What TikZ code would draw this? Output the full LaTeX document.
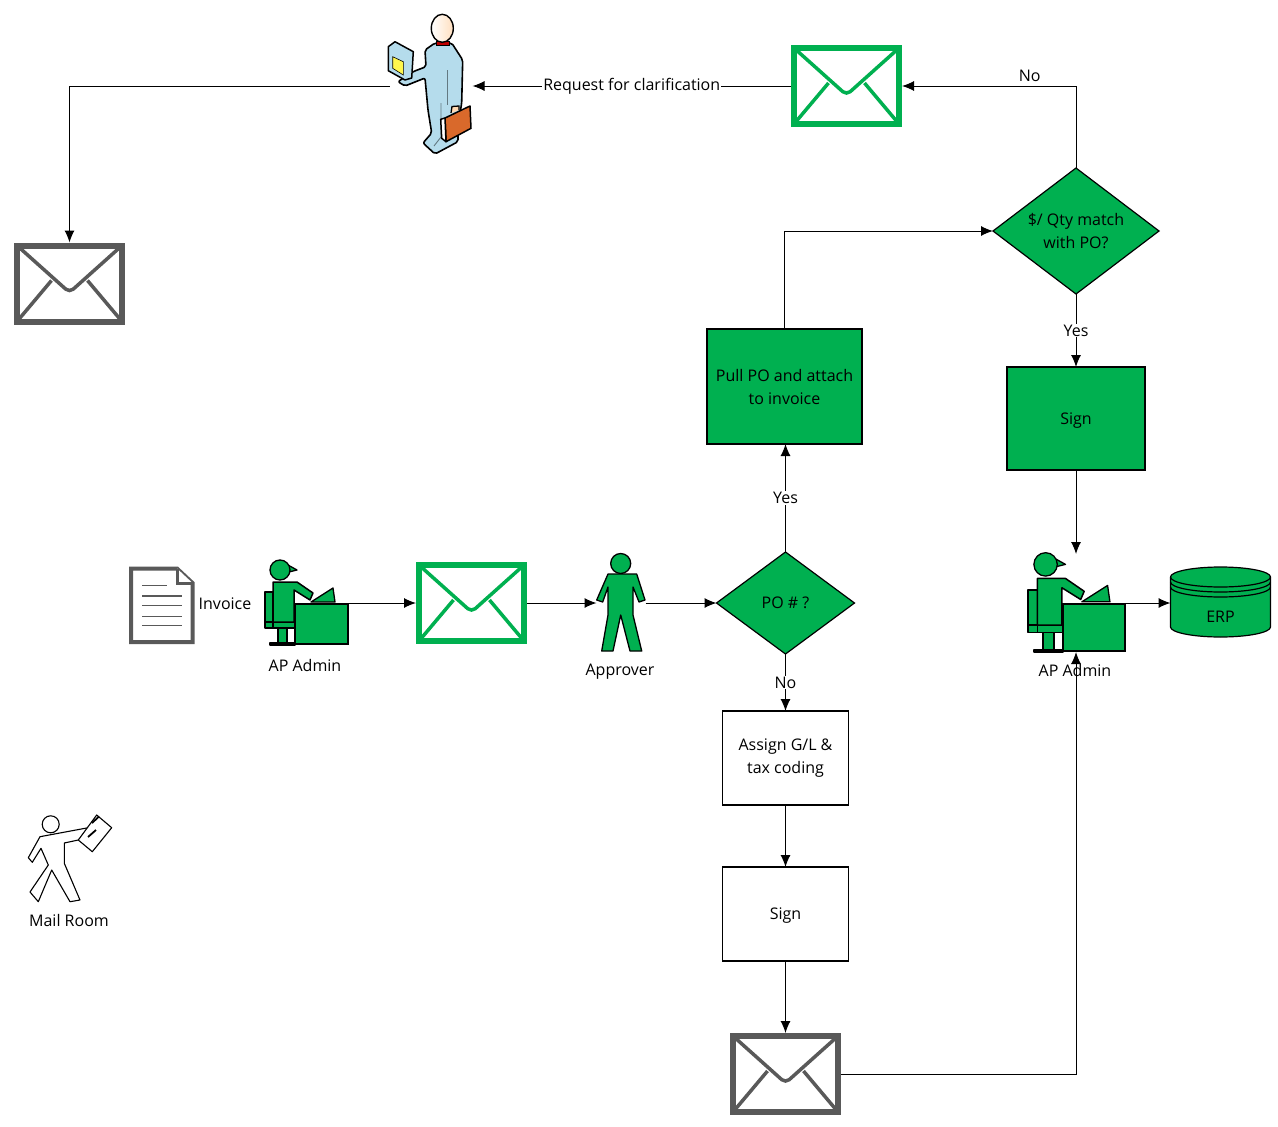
\documentclass[tikz,border=0pt]{standalone}
\usepackage{fontspec}
\usepackage{xcolor}
\setmainfont{Open Sans}
\usetikzlibrary{positioning}
\usetikzlibrary{shapes,arrows.meta}
\definecolor{flowGreen}{HTML}{00B050}
\definecolor{mailGrey}{HTML}{595959}
\definecolor{suitBlue}{HTML}{B5DCEC}
\definecolor{caseOrange}{HTML}{D9692B}

\begin{document}
\begin{tikzpicture} [x=1pt, y=-1pt, node distance = 60pt, font=\fontsize{16}{23}\selectfont]
            % Set primary nodes
            \tikzset{
                processNode/.style={
                        draw,
                        rectangle,
                        line width=1.2pt,
                        outer sep=0pt,
                        align=center
                    }
            }
            \tikzset{
                greenNode/.style={
                        processNode,
                        fill=flowGreen
                    }
            }
            \tikzset{
                decisionNode/.style={
                        draw,
                        diamond,
                        fill=flowGreen,
                        line width=1.2pt,
                        inner sep=-8pt,
                        outer sep=0pt,
                        align=center
                    }
            }
            \tikzset{
                envelopeNode/.style={
                        draw=#1,
                        rectangle,
                        fill=white,
                        line width=6pt,
                        minimum width=105pt,
                        minimum height=76pt,
                        path picture={
                                \draw[#1, line width=3.5pt, rounded corners=5pt]
                                    (path picture bounding box.north west)
                                    -- ([yshift=-9pt]path picture bounding box.center)
                                    -- (path picture bounding box.north east);
                                \draw[#1, line width=3.5pt]
                                    (path picture bounding box.south west)
                                    -- ([xshift=-18pt,yshift=3pt]path picture bounding box.center);
                                \draw[#1, line width=3.5pt]
                                    (path picture bounding box.south east)
                                    -- ([xshift=18pt,yshift=3pt]path picture bounding box.center);
                            }
                    }
            }
            \tikzset{
                iconNode/.style={
                        rectangle,
                        inner sep=0pt,
                        outer sep=0pt
                    }
            }
            \tikzset{
                textNode/.style={
                        inner sep=1pt
                    }
            }
            % Icons
            \tikzset{
                deskWorker/.pic={
                        \draw[line width=1.5pt, fill=flowGreen, line join=round]
                            (-41,-11) rectangle (-33,25)
                            (-41,19) rectangle (-11,25)
                            (-28,25) rectangle (-19,40)
                            (-36,40) rectangle (-11,42);
                        \draw[line width=1.3pt, fill=flowGreen, line join=round]
                            (-18,-38) -- (-9,-33) -- (-17,-31) -- cycle;
                        \draw[line width=1.3pt, fill=flowGreen] (-26,-33) circle (10);
                        \draw[line width=1.5pt, fill=flowGreen, line join=round]
                            (-33,-21) -- (-9,-21) -- (7,-10) -- (4,-3) -- (-12,-13)
                            -- (-12,19) -- (-33,19) -- cycle;
                        \draw[line width=1.3pt, fill=flowGreen, line join=round]
                            (5,-1) -- (27,-15) -- (29,-1) -- cycle;
                        \draw[line width=1.5pt, fill=flowGreen]
                            (-11,1) rectangle (42,41);
                    }
            }
            \tikzset{
                approverIcon/.pic={
                        \begin{scope}[shift={(-621,-603)}]
                            \draw[line width=1.3pt, fill=flowGreen] (620.7,563.5) circle (10);
                            \draw[line width=1.3pt, fill=flowGreen, line join=round]
                                (608,574) -- (636.7,574) -- (645,600) -- (639,602) -- (633,587)
                                -- (633,615) -- (641.7,651) -- (630,651) -- (620.7,615)
                                -- (613,651) -- (601.7,651) -- (608,615) -- (608,587)
                                -- (602.7,602) -- (596.7,600) -- cycle;
                        \end{scope}
                    }
            }
            \tikzset{
                mailIcon/.pic={
                        \begin{scope}[shift={(-69,-860)}]
                            \draw[line width=1.1pt, fill=white] (50.7,824.3) circle (8.5);
                            \draw[line width=1.1pt, fill=white, line join=round]
                                (40,836.7) -- (86.7,828) -- (89,831) -- (78.3,840) -- (64.3,843)
                                -- (64.3,863.3) -- (80,900) -- (70,901.7) -- (51.7,870)
                                -- (38.3,901.7) -- (30,892) -- (48.3,865) -- (41,848.3)
                                -- (32.3,862.3) -- (28.3,857.7) -- cycle;
                            \draw[line width=1.1pt, fill=white, line join=round]
                                (78.3,840) -- (96.7,815) -- (111.7,827.7) -- (92.3,851.7) -- cycle;
                            \draw[line width=1.8pt] (92,823) -- (99,816.5);
                            \draw[line width=1.8pt] (88,837) -- (96,830);
                        \end{scope}
                    }
            }
            \tikzset{
                invoiceIcon/.pic={
                        \begin{scope}[shift={(-161.5,-604.5)}]
                            \draw[mailGrey, line width=4pt, fill=white, line join=miter]
                                (131,568.5) -- (177,568.5) -- (192.5,583) -- (192.5,642) -- (131,642) -- cycle;
                            \draw[mailGrey, line width=3pt, fill=white]
                                (177,568.5) -- (177,583) -- (192.5,583);
                            \draw[mailGrey, line width=1pt] (142,585) -- (167,585);
                            \draw[mailGrey, line width=1.8pt] (142,596) -- (182,596);
                            \draw[mailGrey, line width=1.8pt] (142,605.5) -- (182,605.5);
                            \draw[mailGrey, line width=1pt] (142,616) -- (182,616);
                            \draw[mailGrey, line width=1pt] (142,625) -- (182,625);
                        \end{scope}
                    }
            }
            \tikzset{
                travellerIcon/.pic={
                        \begin{scope}[shift={(-431,-86)}]
                            \draw[line width=1.6pt, fill=suitBlue, line join=round, rounded corners=2pt]
                                (435,43) -- (425,50) -- (426,66.7) -- (413,71.7) -- (398,81.7)
                                -- (405,86) -- (425,78) -- (428,110) -- (431.7,133) -- (423,143)
                                -- (435,154) -- (458,141.7) -- (458,125) -- (461.7,103)
                                -- (462.7,60) -- (451.7,43) -- cycle;
                            \draw[line width=0.9pt, suitBlue!55!black] (447,70) -- (447,105);
                            \draw[line width=0.9pt, suitBlue!55!black] (441,103) -- (441,137) -- (434,146);
                            \draw[line width=0.8pt, fill=red!75!black] (436,41) -- (449,41) -- (449,45) -- (436,45) -- cycle;
                            \draw[line width=1.4pt, left color=white, right color=orange!25] (442.3,28.3) ellipse (11 and 14);
                            \draw[line width=1.5pt, fill=suitBlue, line join=round]
                                (388.3,46.7) -- (395,41.7) -- (413.3,51.7) -- (411.7,78) -- (405,80) -- (388.3,70.7) -- cycle;
                            \draw[line width=0.6pt, fill=yellow!70!white]
                                (392.7,56.7) -- (403.3,61.7) -- (403.3,75) -- (392.7,68.3) -- cycle;
                            \draw[line width=1.3pt, fill=orange!30!white] (451,113) -- (452,106.5) -- (459,106) -- (459,110);
                            \draw[line width=1.5pt, fill=caseOrange, line join=round]
                                (445,118) -- (470,106) -- (471,128.3) -- (446,141.7) -- cycle;
                            \draw[line width=1.5pt, fill=white, line join=round]
                                (440.7,119.3) -- (445,118) -- (446,141.7) -- (441.7,138.3) -- cycle;
                        \end{scope}
                    }
            }
            \tikzset{
                erpIcon/.pic={
                        \begin{scope}[shift={(-1220.5,-603)}]
                            \draw[line width=1.2pt, fill=flowGreen]
                                (1170.5,577) -- (1170.5,627) arc[start angle=180, end angle=0, x radius=50, y radius=10]
                                -- (1270.5,577) arc[start angle=0, end angle=-180, x radius=50, y radius=10];
                            \draw[line width=1.2pt] (1170.5,577) arc[start angle=180, end angle=0, x radius=50, y radius=10];
                            \draw[line width=1.2pt] (1170.5,582) arc[start angle=180, end angle=0, x radius=50, y radius=10];
                            \draw[line width=1.2pt] (1170.5,587) arc[start angle=180, end angle=0, x radius=50, y radius=10];
                        \end{scope}
                    }
            }
            % Configure arrows
            \tikzstyle{arrow} = [line width=1pt, -{Latex[length=12pt,width=10pt]}]
            % Placing nodes
            \useasboundingbox (0,0) rectangle (1278,1127);
            \node[decisionNode, minimum width=138pt, minimum height=102pt](poDecision) at (785.5,603){PO \# ?};
            \node[greenNode, minimum width=155pt, minimum height=115pt, above = 108pt of poDecision, xshift=-1pt](pullPo){Pull PO and attach\\to invoice};
            \node[processNode, minimum width=126pt, minimum height=94pt, below = 57pt of poDecision](assignCoding){Assign G/L \&\\tax coding};
            \node[processNode, minimum width=126pt, minimum height=94pt, text depth=0pt, below = 62pt of assignCoding](signWhite){Sign};
            \node[envelopeNode=mailGrey, below = 72pt of signWhite](envelopeBottom){};
            \node[decisionNode, minimum width=166pt, minimum height=126pt](qtyDecision) at (1076,231){\$/ Qty match\\with  PO?};
            \node[greenNode, minimum width=138pt, minimum height=103pt, text depth=0pt, below = 73pt of qtyDecision](signGreen){Sign};
            \node[envelopeNode=flowGreen](envelopeReply) at (846.5,86){};
            \node[envelopeNode=mailGrey](envelopeBack) at (69.5,283.5){};
            \node[envelopeNode=flowGreen](envelopeRoute) at (471.5,603){};
            \node[iconNode, minimum width=83pt, minimum height=140pt](traveller) at (431,86){};
            \node[iconNode, minimum width=49pt, minimum height=98pt](approver) at (621,603){};
            \node[iconNode, minimum width=84pt, minimum height=85pt](adminLeft) at (306,603){};
            \node[iconNode, minimum width=100pt, minimum height=98pt](adminRight) at (1076,603){};
            \node[iconNode, minimum width=65pt, minimum height=77pt](invoice) at (161.5,604.5){};
            \node[iconNode, minimum width=84pt, minimum height=90pt](mailRoom) at (69,860){};
            \node[iconNode, minimum width=100pt, minimum height=70pt](erp) at (1220.5,603){};
            % Placing icons
            \pic at (traveller.center) {travellerIcon};
            \pic at (approver.center) {approverIcon};
            \pic at (adminLeft.center) {deskWorker};
            \pic[scale=1.17] at (adminRight.center) {deskWorker};
            \pic at (invoice.center) {invoiceIcon};
            \pic at (mailRoom.center) {mailIcon};
            \pic at (erp.center) {erpIcon};
            % Labels
            \node[textNode](invoiceText) at (225,604){Invoice};
            \node[textNode](adminLeftText) at (305,665){AP Admin};
            \node[textNode](approverText) at (620,672){Approver};
            \node[textNode](adminRightText) at (1075,670){AP Admin};
            \node[textNode](mailRoomText) at (69,920){Mail Room};
            \node[textNode](erpText) at (1220.5,617){ERP};
            % Draw arrows
            \draw[arrow](envelopeReply) -- node[textNode, fill=white](requestText){Request for clarification} (traveller);
            \draw[arrow](traveller.west) -| (envelopeBack.north);
            \draw[arrow](qtyDecision.north) |- node[textNode, pos=0.633, above=3pt](noTop){No} (envelopeReply.east);
            \draw[arrow](qtyDecision.south) -- node[textNode, fill=white](yesTop){Yes} (signGreen.north);
            \draw[arrow](signGreen.south) -- (adminRight.north);
            \draw[arrow](pullPo.north) |- (qtyDecision.west);
            \draw[arrow](poDecision.north) -- node[textNode, fill=white](yesMiddle){Yes} (poDecision.north |- pullPo.south);
            \draw[arrow](poDecision.south) -- node[textNode, fill=white](noMiddle){No} (assignCoding.north);
            \draw[arrow](assignCoding.south) -- (signWhite.north);
            \draw[arrow](signWhite.south) -- (envelopeBottom.north);
            \draw[arrow](envelopeBottom.east) -| (adminRight.south);
            \draw[arrow](adminLeft.east) -- (envelopeRoute.west);
            \draw[arrow](envelopeRoute.east) -- (approver.west);
            \draw[arrow](approver.east) -- (poDecision.west);
            \draw[arrow](adminRight.east) -- (erp.west);
        \end{tikzpicture}
\end{document}
